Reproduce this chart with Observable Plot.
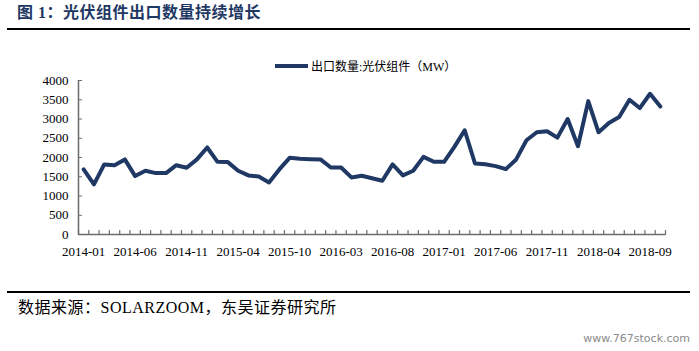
<!DOCTYPE html>
<html><head><meta charset="utf-8">
<script src="https://cdn.jsdelivr.net/npm/d3@7"></script>
<script src="https://cdn.jsdelivr.net/npm/@observablehq/plot@0.6"></script>
<style>
body{margin:0;background:#fff;width:699px;height:351px;position:relative;overflow:hidden;font-family:"Liberation Serif","Noto Sans CJK SC",serif;color:#000;}
#title{position:absolute;left:17px;top:4px;font-size:16px;line-height:18px;font-weight:bold;color:#1f3864;letter-spacing:0.5px;white-space:nowrap;}
.rule{position:absolute;left:7px;width:683px;height:2px;background:#000;}
#legend{position:absolute;left:275px;top:58px;height:16px;font-size:12px;display:flex;align-items:center;white-space:nowrap;}
#legend span.sw{display:inline-block;width:33px;height:4px;background:#1f3864;margin-right:3px;}
#chart{position:absolute;left:0;top:40px;}
#source{position:absolute;left:18px;top:299px;font-size:16px;line-height:18px;letter-spacing:0.5px;white-space:nowrap;}
#wm{position:absolute;right:9px;top:332px;font-family:"DejaVu Sans",sans-serif;font-size:11px;color:#8a8a8a;white-space:nowrap;}
</style></head>
<body>
<div id="title">图 1：光伏组件出口数量持续增长</div>
<div class="rule" style="top:28px"></div>
<div id="legend"><span class="sw"></span>出口数量:光伏组件（MW）</div>
<div id="chart"></div>
<div class="rule" style="top:291px"></div>
<div id="source">数据来源：SOLARZOOM，东吴证券研究所</div>
<div id="wm">www.767stock.com</div>
<script>
const months = ["2014-01","2014-02","2014-03","2014-04","2014-05","2014-06","2014-07","2014-08","2014-09","2014-10","2014-11","2014-12",
"2015-01","2015-02","2015-03","2015-04","2015-05","2015-06","2015-07","2015-09","2015-10","2015-11","2015-12",
"2016-01","2016-02","2016-03","2016-04","2016-05","2016-06","2016-07","2016-08","2016-09","2016-10","2016-11","2016-12",
"2017-01","2017-02","2017-03","2017-04","2017-05","2017-06","2017-07","2017-08","2017-09","2017-10","2017-11","2017-12",
"2018-01","2018-02","2018-03","2018-04","2018-05","2018-06","2018-07","2018-08","2018-09","2018-10"];
const exportMW = [1690,1300,1820,1800,1950,1517,1655,1595,1595,1800,1733,1950,
2260,1888,1880,1655,1534,1508,1353,1690,1991,1965,1957,
1950,1741,1741,1483,1526,1460,1396,1820,1534,1655,2017,1888,
1888,2276,2707,1845,1827,1776,1698,1950,2448,2655,2681,2517,
3000,2293,3465,2655,2896,3051,3500,3284,3655,3327];
const yTicks = [0,500,1000,1500,2000,2500,3000,3500,4000];
const labelStep = 5;
const seriesName = "出口数量:光伏组件（MW）";

const data = months.map((m, i) => ({i, m, v: exportMW[i]}));
const labelData = data.filter((d, i) => i % labelStep === 0);
const boundaries = d3.range(months.length + 1);
const tickShape = {draw(ctx, l) { ctx.moveTo(0, 0); ctx.lineTo(0, -l); }};
const axisColor = "#6b6b6b";
const lineColor = "#1f3864";

const chart = Plot.plot({
  width: 699, height: 225,
  marginTop: 40, marginBottom: 31, marginLeft: 78, marginRight: 34,
  x: {domain: [0, months.length], axis: null},
  y: {domain: [0, 4000], axis: null},
  style: {fontFamily: "Liberation Serif, serif", fontSize: "13px", color: "#000", background: "transparent", overflow: "visible"},
  marks: [
    Plot.ruleY([0], {stroke: axisColor, strokeWidth: 1.5}),
    Plot.ruleX([0], {stroke: axisColor, strokeWidth: 1.5}),
    Plot.vector(boundaries, {x: d => d, y: () => 0, length: 4, anchor: "start", rotate: 0, shape: tickShape, stroke: axisColor, strokeWidth: 1.2}),
    Plot.vector(yTicks, {x: () => 0, y: d => d, length: 3, anchor: "start", rotate: 90, shape: tickShape, stroke: axisColor, strokeWidth: 1.2}),
    Plot.text(yTicks, {x: () => 0, y: d => d, text: d => String(d), textAnchor: "end", dx: -10, fill: "#000"}),
    Plot.text(labelData, {x: d => d.i + 0.5, y: () => 0, text: "m", dy: 17, fill: "#000"}),
    Plot.line(data, {x: d => d.i + 0.5, y: "v", stroke: lineColor, strokeWidth: 4, strokeLinejoin: "round", strokeLinecap: "round"})
  ]
});
document.getElementById("chart").appendChild(chart);
</script>
</body></html>
